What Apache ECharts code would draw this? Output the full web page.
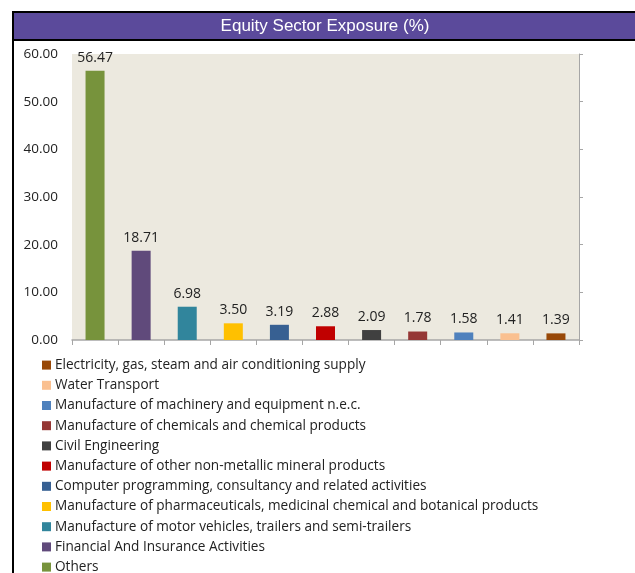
<!DOCTYPE html>
<html><head><meta charset="utf-8">
<script src="https://cdn.jsdelivr.net/npm/echarts@6/dist/echarts.min.js"></script>
<style>html,body{margin:0;padding:0;background:#fff}#c{width:635px;height:573px}</style>
</head><body><div id="c"></div>
<script>
const categories = ["Others","Financial And Insurance Activities","Manufacture of motor vehicles, trailers and semi-trailers","Manufacture of pharmaceuticals, medicinal chemical and botanical products","Computer programming, consultancy and related activities","Manufacture of other non-metallic mineral products","Civil Engineering","Manufacture of chemicals and chemical products","Manufacture of machinery and equipment n.e.c.","Water Transport","Electricity, gas, steam and air conditioning supply"];
const values = [56.47,18.71,6.98,3.50,3.19,2.88,2.09,1.78,1.58,1.41,1.39];
const colors = ["#77933C","#604A7B","#31859C","#FFC000","#376092","#C00000","#404040","#953735","#4F81BD","#FAC090","#984807"];
const yTicks = [0,10,20,30,40,50,60];

const legendFont = "Open Sans";
const series = categories.map((name, i) => ({
  name: name,
  type: 'bar',
  stack: 'all',
  barWidth: 19,
  itemStyle: {color: colors[i]},
  label: {show: true, position: 'top', distance: 6, fontFamily: legendFont, fontSize: 14, color: '#222',
          formatter: p => p.value.toFixed(2)},
  data: categories.map((c, j) => j === i ? values[i] : '-')
}));

const chart = echarts.init(document.getElementById('c'));
chart.setOption({
  animation: false,
  grid: {left: 72, right: 56, top: 54, bottom: 233, show: true, backgroundColor: '#ECE9DF', borderWidth: 0},
  xAxis: {type: 'category', data: categories, boundaryGap: true,
    axisLabel: {show: false},
    axisLine: {lineStyle: {color: '#A6A6A6', width: 1.5}},
    axisTick: {show: true, interval: 0, length: 5, lineStyle: {color: '#A6A6A6'}}
  },
  yAxis: [{type: 'value', min: yTicks[0], max: yTicks[yTicks.length-1], interval: 10,
    axisLabel: {fontFamily: legendFont, fontSize: 13.5, color: '#222', margin: 14, formatter: v => v.toFixed(2)},
    axisLine: {show: false}, axisTick: {show: false}, splitLine: {show: false}
  },{type: 'value', position: 'right', min: yTicks[0], max: yTicks[yTicks.length-1], interval: 10,
    axisLabel: {show: false},
    axisLine: {show: true, lineStyle: {color: '#A6A6A6'}},
    axisTick: {show: true, length: 4, lineStyle: {color: '#A6A6A6'}}, splitLine: {show: false}
  }],
  legend: {orient: 'vertical', left: 37, top: 353, height: 230, data: categories.slice().reverse(),
    itemWidth: 9, itemHeight: 9, itemGap: 6, icon: 'rect', padding: 5,
    textStyle: {fontFamily: legendFont, fontSize: 13.6, color: '#222', lineHeight: 14.2, padding: [0, 0, 0, -1]}
  },
  graphic: [
    {type: 'rect', shape: {x: 13, y: 12, width: 640, height: 28}, style: {fill: '#5B4A9B', stroke: '#000', lineWidth: 2}},
    {type: 'line', shape: {x1: 13, y1: 12, x2: 13, y2: 573}, style: {stroke: '#000', lineWidth: 2}},
    {type: 'text', x: 325, y: 26, style: {text: 'Equity Sector Exposure (%)', fill: '#fff', font: '17px "Liberation Sans"', textAlign: 'center', textVerticalAlign: 'middle'}}
  ],
  series: series
});
</script></body></html>
